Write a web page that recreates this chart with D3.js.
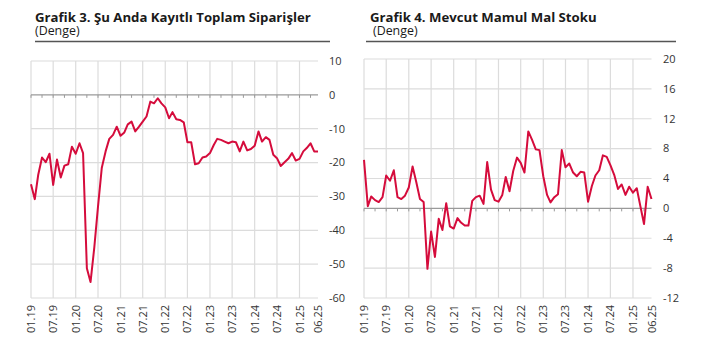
<!DOCTYPE html>
<html>
<head>
<meta charset="utf-8">
<script src="https://cdn.jsdelivr.net/npm/d3@7"></script>
<style>
  body { margin: 0; background: #fff; }
  svg { display: block; font-family: "Open Sans", sans-serif; }
</style>
</head>
<body>
<div id="chart"></div>
<script>
// Monthly balance series, 01.2019 – 06.2025 (78 months)
const ordersValues = [
  -26.4, -30.8, -23.6, -18.5, -19.9, -17.4, -26.6, -19.1, -24.4, -20.9, -20.5, -15.3,
  -17.4, -14.3, -17.2, -51.2, -55.3, -45.0, -33.0, -21.5, -16.7, -13.0, -11.8, -9.4,
  -12.1, -11.1, -8.7, -7.9, -10.8, -9.4, -7.9, -6.4, -2.0, -2.5, -1.0, -2.5,
  -3.7, -6.9, -5.1, -7.2, -7.4, -8.1, -14.0, -14.0, -20.5, -20.2, -18.5, -18.2,
  -17.2, -14.8, -13.0, -13.3, -13.8, -14.3, -13.8, -14.0, -16.7, -13.8, -16.4, -16.0,
  -15.0, -10.8, -13.8, -12.5, -13.3, -17.7, -18.7, -21.0, -19.9, -18.9, -17.2, -19.4,
  -18.9, -16.7, -15.7, -14.3, -16.7, -16.7
];
const stockValues = [
  6.5, 0.3, 1.6, 1.1, 0.85, 1.5, 4.4, 3.7, 5.1, 1.5, 1.25, 1.7,
  2.8, 5.6, 3.6, 1.25, 0.85, -8.1, -3.1, -6.5, -1.4, -2.9, 0.7, -2.4,
  -2.7, -1.3, -1.9, -2.3, -2.3, 1.0, 1.5, 1.7, 0.6, 6.2, 2.5, 1.1,
  0.9, 1.8, 4.2, 2.3, 5.0, 6.8, 6.1, 4.8, 10.3, 9.2, 7.9, 7.8,
  4.3, 1.8, 0.8, 1.5, 1.9, 7.8, 5.5, 6.0, 4.8, 4.3, 4.9, 4.8,
  0.9, 3.0, 4.4, 5.1, 7.1, 6.9, 5.8, 4.5, 2.6, 3.2, 1.8, 2.9,
  2.1, 2.7, 0.4, -2.1, 2.9, 1.25
];
const xTickLabels = ["01.19", "07.19", "01.20", "07.20", "01.21", "07.21", "01.22",
  "07.22", "01.23", "07.23", "01.24", "07.24", "01.25", "06.25"];
const ordersTicks = [10, 0, -10, -20, -30, -40, -50, -60];
const stockTicks = [20, 16, 12, 8, 4, 0, -4, -8, -12];

const parseMonth = d3.timeParse("%m.%y");
const months = d3.timeMonth.range(new Date(2019, 0, 1), new Date(2025, 6, 1));

const width = 706, height = 353;
const svg = d3.select("#chart").append("svg")
  .attr("width", width)
  .attr("height", height);

function drawPanel(opt) {
  const x = d3.scaleTime()
    .domain([months[0], months[months.length - 1]])
    .range([opt.x0, opt.x1]);
  const y = d3.scaleLinear().domain(opt.domain).range([298, opt.yTop]);
  const g = svg.append("g");

  // title block
  g.append("text")
    .attr("x", opt.titleX).attr("y", 21.5)
    .attr("font-size", "13.2px").attr("font-weight", 700).attr("fill", "#1a1a1a")
    .text(opt.title);
  g.append("text")
    .attr("x", opt.subX).attr("y", 35)
    .attr("font-size", "12.4px").attr("fill", "#1a1a1a")
    .text("(Denge)");
  g.append("line")
    .attr("x1", opt.ruleX0).attr("x2", opt.ruleX1)
    .attr("y1", 41.5).attr("y2", 41.5)
    .attr("stroke", "#555").attr("stroke-width", 1.6);

  const ticks = xTickLabels.map(parseMonth);

  // horizontal grid
  g.selectAll(".hgrid").data(opt.yTicks.filter((v) => v !== 0)).join("line")
    .attr("x1", opt.x0).attr("x2", opt.x1)
    .attr("y1", (d) => y(d)).attr("y2", (d) => y(d))
    .attr("stroke", "#dcdcdc").attr("stroke-width", 1.2);

  // vertical grid (every six months, not the last label)
  g.selectAll(".vgrid").data(ticks.slice(0, -1)).join("line")
    .attr("x1", (d) => x(d)).attr("x2", (d) => x(d))
    .attr("y1", y(opt.domain[1])).attr("y2", y(opt.domain[0]))
    .attr("stroke", "#dcdcdc").attr("stroke-width", 1.2);

  // zero line with quarterly tick marks
  g.append("line")
    .attr("x1", opt.x0).attr("x2", opt.x1)
    .attr("y1", y(0)).attr("y2", y(0))
    .attr("stroke", "#9a9a9a").attr("stroke-width", 1.2);
  const quarters = months.filter((d, i) => i % 3 === 0);
  g.selectAll(".qtick").data(quarters).join("line")
    .attr("x1", (d) => x(d)).attr("x2", (d) => x(d))
    .attr("y1", y(0)).attr("y2", y(0) + 3)
    .attr("stroke", "#9a9a9a").attr("stroke-width", 1);

  // y labels on the right
  g.selectAll(".ylab").data(opt.yTicks).join("text")
    .attr("x", opt.labelX).attr("y", (d) => y(d))
    .attr("dy", "0.35em")
    .attr("font-size", "11px").attr("fill", "#333")
    .text((d) => d);

  // x labels, rotated
  g.selectAll(".xlab").data(ticks).join("text")
    .attr("transform", (d) => `translate(${x(d) + 4},305) rotate(-90)`)
    .attr("text-anchor", "end")
    .attr("font-size", "11px").attr("fill", "#333")
    .text((d, i) => xTickLabels[i]);

  const line = d3.line()
    .x((d, i) => x(months[i]))
    .y((d) => y(d));
  g.append("path")
    .datum(opt.values)
    .attr("d", line)
    .attr("fill", "none")
    .attr("stroke", "#d50c3c")
    .attr("stroke-width", 2)
    .attr("stroke-linejoin", "round");
}

drawPanel({
  title: "Grafik 3. Şu Anda Kayıtlı Toplam Siparişler",
  titleX: 35, subX: 35, ruleX0: 35, ruleX1: 330,
  x0: 31, x1: 318, yTop: 61, domain: [-60, 10],
  yTicks: ordersTicks, labelX: 329, values: ordersValues
});

drawPanel({
  title: "Grafik 4. Mevcut Mamul Mal Stoku",
  titleX: 370, subX: 373, ruleX0: 366, ruleX1: 676,
  x0: 364, x1: 651.5, yTop: 59, domain: [-12, 20],
  yTicks: stockTicks, labelX: 663, values: stockValues
});
</script>
</body>
</html>
